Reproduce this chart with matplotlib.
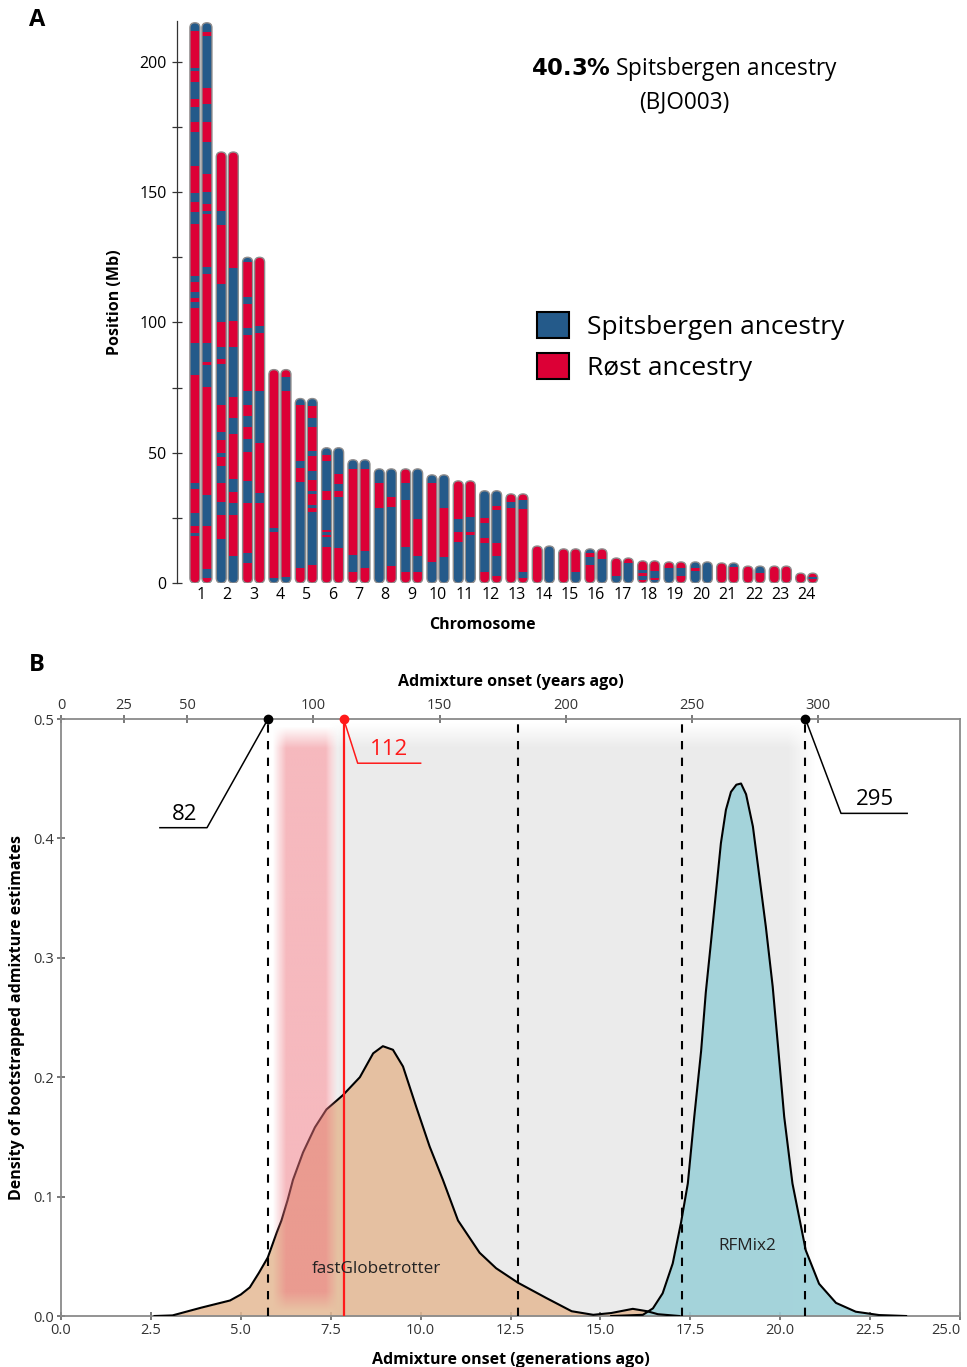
import numpy as np
import matplotlib
matplotlib.use("Agg")
import matplotlib.pyplot as plt
from matplotlib.patches import FancyBboxPatch, Rectangle, Patch

plt.rcParams['font.family'] = ['Open Sans', 'DejaVu Sans']

SPITS = '#245a8a'
ROST = '#dc0036'

# ---------------- panel A data ----------------
chrom_ids = list(range(1, 25))
chrom_len = [215, 165.4, 125, 81.9, 70.8, 51.9, 47.3, 43.8, 43.8, 41.5, 39.2, 35.4,
             34.2, 14.2, 13.1, 13.1, 9.6, 8.5, 8.1, 8.1, 7.7, 6.5, 6.5, 3.8]

# Spitsbergen (blue) tracts in Mb, haplotype A (left bar) and B (right bar);
# everything else on the chromosome is Rost ancestry
spits_a = [
    [(211.9, 215), (196.5, 197.7), (185.8, 192.3), (176.9, 182.7), (160.0, 173.1),
     (146.2, 149.6), (137.7, 142.3), (115.4, 117.7), (109.2, 111.5), (105.4, 107.7),
     (80.0, 92.3), (36.2, 38.5), (21.9, 26.9), (18.1, 19.2)],
    [(137.3, 142.7), (100.0, 114.6), (85.8, 90.4), (68.5, 84.2), (55.0, 58.1),
     (48.5, 50.0), (38.5, 45.0), (26.2, 31.2), (0, 16.9)],
    [(123.1, 125), (106.9, 109.6), (95.0, 97.7), (68.5, 73.5), (60.0, 64.2),
     (50.4, 55.4), (30.8, 39.2), (7.7, 11.5)],
    [(19.6, 21.2), (0, 1.9)],
    [(68.5, 70.8), (44.2, 46.9), (5.8, 38.8)],
    [(49.2, 51.9), (35.4, 46.9), (20.4, 31.9), (18.5, 19.6), (13.8, 17.7)],
    [(43.8, 47.3), (4.2, 10.8)],
    [(38.5, 43.8), (0, 28.8)],
    [(31.9, 38.5), (4.2, 13.8)],
    [(38.5, 41.5), (0, 8.1)],
    [(19.6, 24.6), (0, 15.8)],
    [(25.0, 35.4), (17.3, 23.1), (4.2, 15.4)],
    [(28.8, 31.2)],
    [],
    [],
    [(11.5, 13.1), (6.9, 10.0)],
    [(0, 2.7)],
    [(3.8, 5.0), (1.2, 2.7)],
    [(0, 5.8)],
    [(5.8, 8.1), (0, 4.6)],
    [],
    [],
    [],
    [],
]
spits_b = [
    [(211.5, 215), (190.0, 210.0), (176.9, 183.8), (156.9, 169.2), (145.4, 150.0),
     (141.5, 142.7), (118.5, 121.2), (85.0, 92.3), (75.4, 83.8), (21.9, 33.8),
     (1.9, 5.4)],
    [(100.4, 120.8), (71.5, 90.4), (57.3, 63.5), (35.0, 40.0), (26.2, 30.8), (0, 10.4)],
    [(95.8, 98.5), (53.8, 73.5), (30.8, 34.6)],
    [(73.5, 79.2), (0, 2.3)],
    [(68.1, 70.8), (60.0, 63.5), (48.8, 50.8), (39.6, 43.1), (34.2, 35.4),
     (28.8, 30.0), (6.9, 27.3)],
    [(41.9, 51.9), (35.4, 38.1), (13.5, 33.1)],
    [(43.8, 47.3), (5.8, 12.3)],
    [(33.1, 43.8), (6.5, 29.2)],
    [(24.6, 43.8), (4.2, 10.4)],
    [(28.8, 41.5), (0, 10.0)],
    [(19.6, 25.4), (0, 18.5)],
    [(29.6, 35.4), (15.4, 28.1), (2.7, 10.4)],
    [(28.5, 31.9), (1.9, 4.2)],
    [(0, 14.2)],
    [(0, 4.2)],
    [(0, 9.2)],
    [(0, 7.7)],
    [(1.9, 4.6), (0, 1.2)],
    [(2.7, 5.8)],
    [(0, 8.1)],
    [(6.2, 7.7)],
    [(3.8, 6.5)],
    [],
    [(1.5, 2.3)],
]
spits_pct = 40.3
sample_id = 'BJO003'

# ---------------- panel B data ----------------
gen_time = 14.25  # years per generation
fg_gen = [2.6, 3.1, 3.9, 4.7, 5.0, 5.25, 5.5, 5.75, 6.0, 6.13, 6.3, 6.45, 6.73, 7.06,
          7.38, 7.84, 8.31, 8.68, 8.95, 9.23, 9.51, 9.88, 10.25, 10.62, 11.04, 11.64,
          12.1, 12.7, 13.5, 14.2, 14.8, 15.3, 15.9, 16.3, 16.6, 17.2]
fg_dens = [0.0, 0.0005, 0.007, 0.013, 0.018, 0.024, 0.036, 0.049, 0.07, 0.08, 0.097,
           0.114, 0.137, 0.158, 0.173, 0.185, 0.200, 0.220, 0.226, 0.223, 0.209, 0.175,
           0.142, 0.114, 0.080, 0.053, 0.040, 0.028, 0.015, 0.004, 0.001, 0.0025,
           0.006, 0.004, 0.0015, 0.0]
rf_gen = [15.3, 16.18, 16.46, 16.73, 17.01, 17.24, 17.43, 17.61, 17.8, 17.93, 18.07,
          18.21, 18.35, 18.49, 18.63, 18.78, 18.91, 19.05, 19.24, 19.42, 19.6, 19.79,
          19.95, 20.11, 20.34, 20.71, 21.08, 21.55, 22.1, 22.75, 23.5]
rf_dens = [0.0, 0.001, 0.0064, 0.019, 0.044, 0.078, 0.111, 0.167, 0.222, 0.271, 0.312,
           0.354, 0.396, 0.424, 0.439, 0.445, 0.446, 0.437, 0.410, 0.368, 0.326, 0.276,
           0.222, 0.167, 0.111, 0.055, 0.027, 0.011, 0.0036, 0.0008, 0.0]
ci_years = [82, 181, 246, 295]      # dashed lines (95% intervals)
point_years = 112                   # red line
label_years = [82, 295]             # black labelled bounds
top_ticks = [0, 25, 50, 100, 150, 200, 250, 300]

fig = plt.figure(figsize=(9.67, 13.67), dpi=100)

# ================= Panel A =================
xlimA = (0.09, 24.8)
ylimA = (0, 215.5)
rectA = [0.183, 0.5735, 0.673, 0.4108]
axA = fig.add_axes(rectA)
axA.set_xlim(*xlimA)
axA.set_ylim(*ylimA)

px_x = rectA[2] * 967 / (xlimA[1] - xlimA[0])
px_y = rectA[3] * 1367 / (ylimA[1] - ylimA[0])
asp = px_x / px_y
bar_w = 0.38
bar_off = 0.228

for cid, length, hap_a, hap_b in zip(chrom_ids, chrom_len, spits_a, spits_b):
    for off, segs in ((-bar_off, hap_a), (bar_off, hap_b)):
        x0 = cid + off - bar_w / 2
        style = f"round,pad=0,rounding_size={bar_w / 2}"
        body = FancyBboxPatch((x0, 0), bar_w, length, boxstyle=style,
                              mutation_aspect=asp, fc=ROST, ec='none', zorder=2)
        axA.add_patch(body)
        for lo, hi in segs:
            r = Rectangle((x0, lo), bar_w, hi - lo, fc=SPITS, ec='none', zorder=3)
            axA.add_patch(r)
            r.set_clip_path(body)
        axA.add_patch(FancyBboxPatch((x0, 0), bar_w, length, boxstyle=style,
                                     mutation_aspect=asp, fc='none', ec='#8e8e8e',
                                     lw=1.0, zorder=4))

for s in ['top', 'right', 'bottom']:
    axA.spines[s].set_visible(False)
axA.spines['left'].set_color('#333333')
axA.spines['left'].set_linewidth(0.9)
axA.set_yticks([0, 50, 100, 150, 200])
axA.set_yticks([25, 75, 125, 175], minor=True)
axA.tick_params(axis='y', which='both', direction='inout', length=7, width=0.9,
                color='#333333', labelsize=11.5, pad=4)
axA.set_xticks(chrom_ids)
axA.set_xticklabels([str(c) for c in chrom_ids])
axA.tick_params(axis='x', length=0, labelsize=11.5, pad=3)
axA.set_xlabel('Chromosome', fontsize=11.5, fontweight='bold', labelpad=10,
               x=0.47)
axA.set_ylabel('Position (Mb)', fontsize=11.5, fontweight='bold', labelpad=12)

axA.text(19.37, 197.2, f'$\\bf{{{spits_pct}\\%}}$ Spitsbergen ancestry',
         ha='center', va='center', fontsize=16.3)
axA.text(19.37, 184.5, f'({sample_id})', ha='center', va='center', fontsize=16.3)

handles = [Patch(fc=SPITS, ec='black', lw=1.5), Patch(fc=ROST, ec='black', lw=1.5)]
axA.legend(handles, ['Spitsbergen ancestry', 'R\u00f8st ancestry'], loc='upper left',
           bbox_to_anchor=(0.553, 0.483), frameon=False, fontsize=19,
           handlelength=1.21, handleheight=1.14, labelspacing=0.5,
           handletextpad=0.7, borderpad=0, borderaxespad=0)

# ================= Panel B =================
axB = fig.add_axes([0.0631, 0.0373, 0.9297, 0.4367])
axB.set_xlim(0, 25)
axB.set_ylim(0, 0.5)


def ramp(v, a, b):
    return np.clip((v - a) / (b - a), 0, 1)


gx = np.linspace(0, 25, 1200)
gy = np.linspace(0, 0.5, 600)
GX, GY = np.meshgrid(gx, gy)
gray = np.zeros(GX.shape + (4,))
gray[..., :3] = 0.925
gray[..., 3] = ramp(GX, 7.45, 7.75) * ramp(-GX, -20.95, -20.2) * ramp(-GY, -0.497, -0.476)
axB.imshow(gray, extent=(0, 25, 0, 0.5), origin='lower', aspect='auto',
           interpolation='bilinear', zorder=0)

pink = np.zeros(GX.shape + (4,))
pink[..., 0] = 237 / 255
pink[..., 1] = 115 / 255
pink[..., 2] = 125 / 255
pink[..., 3] = 0.5 * ramp(GX, 5.88, 6.25) * ramp(-GX, -7.68, -7.35) \
    * ramp(-GY, -0.494, -0.476) * ramp(GY, 0.004, 0.02)
axB.imshow(pink, extent=(0, 25, 0, 0.5), origin='lower', aspect='auto',
           interpolation='bilinear', zorder=6)

axB.fill_between(fg_gen, fg_dens, color='#e4b994', alpha=0.85, lw=0, zorder=2)
axB.fill_between(rf_gen, rf_dens, color='#9dd1d9', alpha=0.9, lw=0, zorder=2)
axB.plot(fg_gen, fg_dens, color='black', lw=1.5, zorder=5)
axB.plot(rf_gen, rf_dens, color='black', lw=1.5, zorder=5)

for yr in ci_years:
    axB.axvline(yr / gen_time, color='black', lw=1.5, ls=(0, (4, 4)), zorder=7)
axB.axvline(point_years / gen_time, color='#ff1a1a', lw=1.6, zorder=8)

axB.text(8.78, 0.039, 'fastGlobetrotter', ha='center', va='center', fontsize=12.3,
         color='#222222', zorder=9)
axB.text(19.08, 0.059, 'RFMix2', ha='center', va='center', fontsize=12.3,
         color='#222222', zorder=9)

# annotations of onset bounds
g_lo = label_years[0] / gen_time
g_hi = label_years[1] / gen_time
g_pt = point_years / gen_time
axB.plot([g_lo, 4.06, 2.75], [0.5, 0.409, 0.409], color='black', lw=1.1,
         clip_on=False, zorder=9)
axB.plot(g_lo, 0.5, 'o', color='black', ms=6, clip_on=False, zorder=10)
axB.text(3.44, 0.4115, str(label_years[0]), ha='center', va='bottom', fontsize=16)
axB.plot([g_hi, 21.69, 23.53], [0.5, 0.421, 0.421], color='black', lw=1.1,
         clip_on=False, zorder=9)
axB.plot(g_hi, 0.5, 'o', color='black', ms=6, clip_on=False, zorder=10)
axB.text(22.64, 0.4235, str(label_years[1]), ha='center', va='bottom', fontsize=16)
axB.plot([g_pt, 8.25, 10.0], [0.5, 0.463, 0.463], color='#ff1a1a', lw=1.1,
         clip_on=False, zorder=9)
axB.plot(g_pt, 0.5, 'o', color='#ff1a1a', ms=6, clip_on=False, zorder=10)
axB.text(9.11, 0.4655, str(point_years), ha='center', va='bottom', fontsize=16,
         color='#ff1a1a')

for s in axB.spines.values():
    s.set_color('#8a8a8a')
    s.set_linewidth(1.3)
xt = np.arange(0, 25.1, 2.5)
axB.set_xticks(xt)
axB.set_xticklabels([f'{v:.1f}' for v in xt])
axB.get_xticklabels()[-1].set_horizontalalignment('right')
axB.set_yticks(np.arange(0, 0.51, 0.1))
axB.set_yticklabels([f'{v:.1f}' for v in np.arange(0, 0.51, 0.1)])
axB.tick_params(direction='inout', length=6, width=1.1, color='#555555',
                labelsize=10.5, labelcolor='#333333', pad=2)
axB.set_xlabel('Admixture onset (generations ago)', fontsize=11.5,
               fontweight='bold', labelpad=10)
axB.set_ylabel('Density of bootstrapped admixture estimates', fontsize=11.5,
               fontweight='bold', labelpad=6)

top = axB.secondary_xaxis('top', functions=(lambda g: g * gen_time,
                                            lambda y: y / gen_time))
top.set_xticks(top_ticks)
top.tick_params(direction='inout', length=6, width=1.1, color='#555555',
                labelsize=10.5, labelcolor='#333333', pad=1)
top.spines['top'].set_visible(False)
top.set_xlabel('Admixture onset (years ago)', fontsize=11.5, fontweight='bold',
               labelpad=9)

fig.text(37 / 967, 1 - 20 / 1367, 'A', fontsize=17, fontweight='bold',
         ha='center', va='center')
fig.text(37 / 967, 1 - 665 / 1367, 'B', fontsize=17, fontweight='bold',
         ha='center', va='center')

fig.savefig('out.png', dpi=100)
